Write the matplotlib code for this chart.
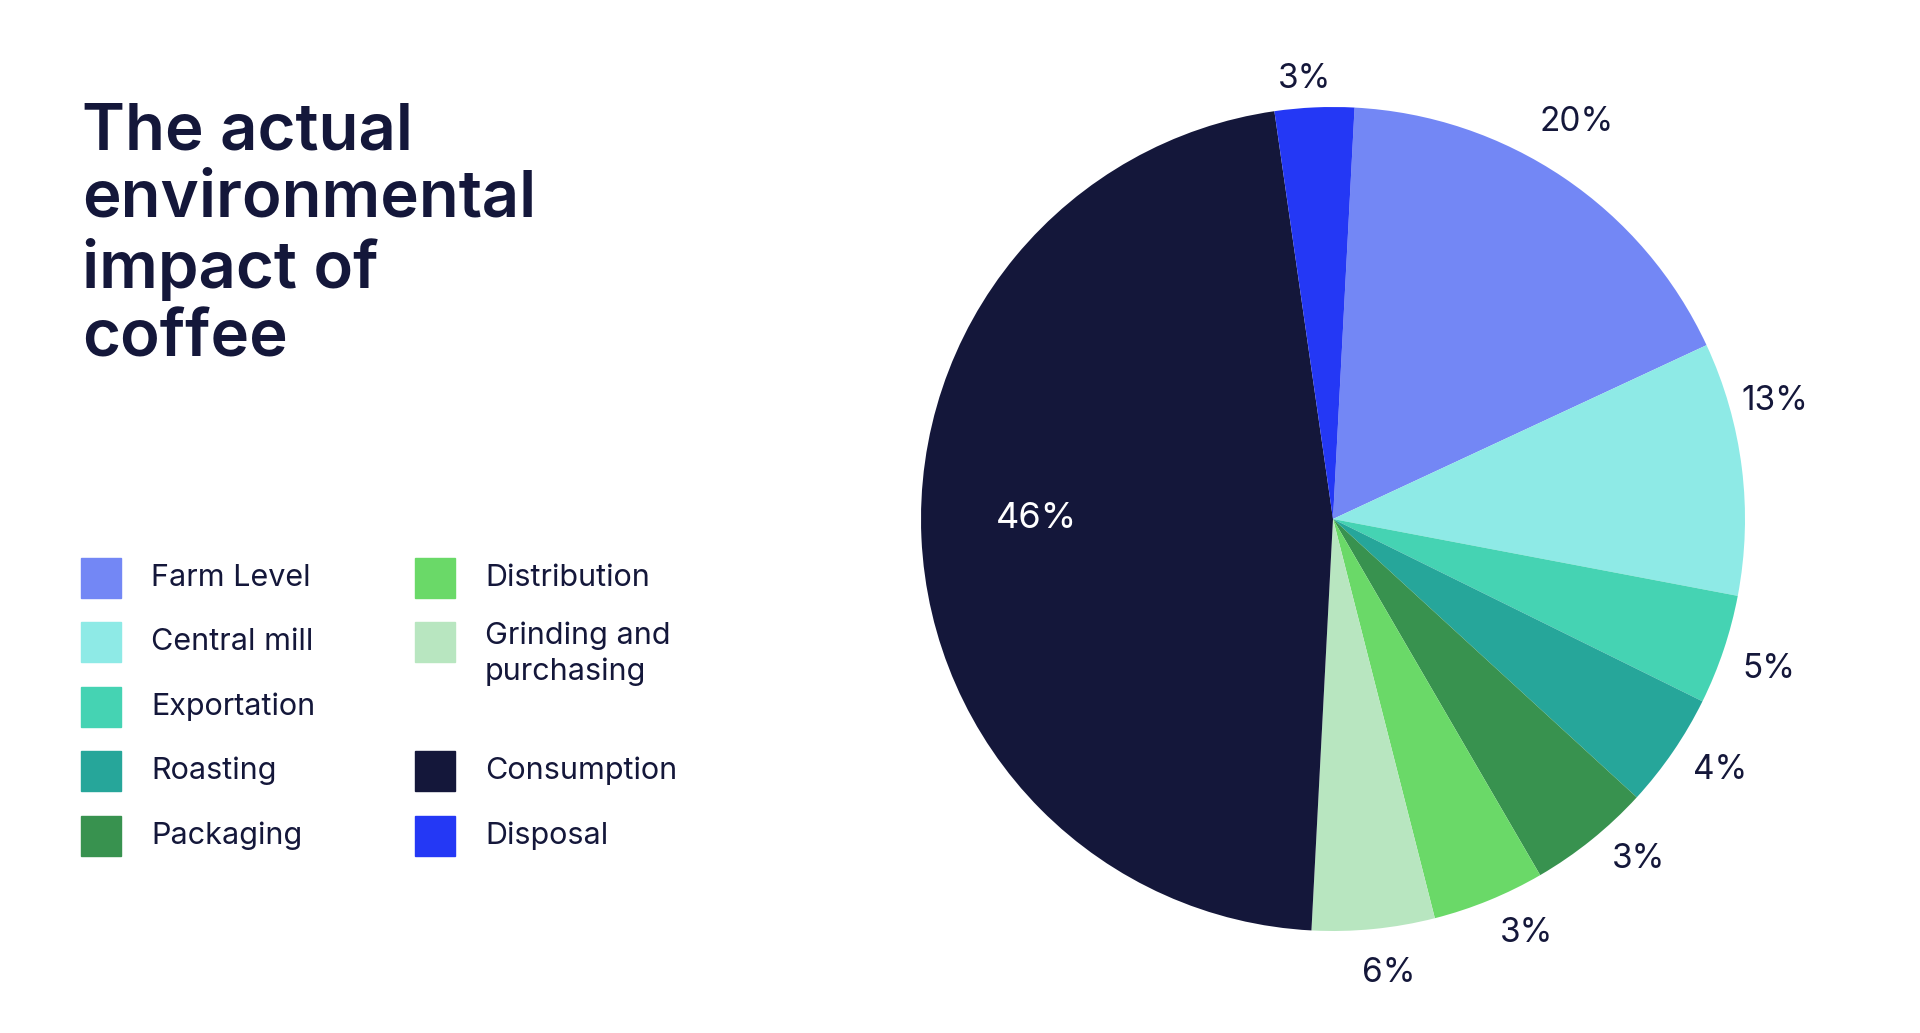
import matplotlib

matplotlib.use("Agg")
import numpy as np
import matplotlib.pyplot as plt
from matplotlib.patches import Rectangle

CATEGORIES = ["Farm Level", "Central mill", "Exportation", "Roasting", "Packaging",
              "Distribution", "Grinding and\npurchasing", "Consumption", "Disposal"]
# wedge sizes as drawn in the reference (labels are rounded differently)
SIZES = [17.2, 9.9, 4.3, 4.5, 4.8, 4.4, 4.8, 46.8, 3.1]
LABELS = ["20%", "13%", "5%", "4%", "3%", "3%", "6%", "46%", "3%"]
COLORS = ["#7387F5", "#8EEAE6", "#45D3B3", "#26A69A", "#38924F",
          "#6AD968", "#B8E6C0", "#14173A", "#2438F5"]
DARK = "#14173A"

# label placement (angle in degrees, radius) as laid out in the reference
LABEL_POS = [(58.5, 1.13), (15, 1.11), (-19, 1.12), (-33, 1.12), (-48, 1.11),
             (-65, 1.11), (-83, 1.11), (180, 0.72), (93.7, 1.07)]

plt.rcParams["font.family"] = "Inter"

W, H = 1920, 1033
fig = plt.figure(figsize=(W / 100, H / 100), dpi=100)

cx, cy, r = 1333, 519, 412
ax = fig.add_axes([(cx - r) / W, (H - cy - r) / H, 2 * r / W, 2 * r / H])
ax.pie(SIZES, colors=COLORS, startangle=87, counterclock=False)
for lab, (ang, rad) in zip(LABELS, LABEL_POS):
    a = np.radians(ang)
    inside = rad < 1
    ax.text(rad * np.cos(a), rad * np.sin(a), lab, ha="center", va="center",
            fontsize=26 if inside else 24, color="white" if inside else DARK)
ax.set_xlim(-1, 1)
ax.set_ylim(-1, 1)
ax.set_aspect("equal")

fig.text(82 / W, 1 - 102 / H, "The actual\nenvironmental\nimpact of\ncoffee",
         fontsize=47, fontweight="semibold", color=DARK, va="top", ha="left",
         linespacing=1.17)

rows = [578, 642, 707, 771, 836]
slots = [(0, 0), (0, 1), (0, 2), (0, 3), (0, 4), (1, 0), (1, 1), (1, 3), (1, 4)]
for name, col, (c, ri) in zip(CATEGORIES, COLORS, slots):
    y = rows[ri]
    sx = 81 if c == 0 else 415
    tx = 151 if c == 0 else 485
    fig.patches.append(Rectangle((sx / W, 1 - (y + 20) / H), 40 / W, 40 / H,
                                 transform=fig.transFigure, color=col))
    if "\n" in name:
        fig.text(tx / W, 1 - (y - 20) / H, name, fontsize=22, color=DARK,
                 va="top", ha="left", linespacing=1.3)
    else:
        fig.text(tx / W, 1 - y / H, name, fontsize=22, color=DARK,
                 va="center", ha="left")

fig.savefig("out.png", dpi=100)
